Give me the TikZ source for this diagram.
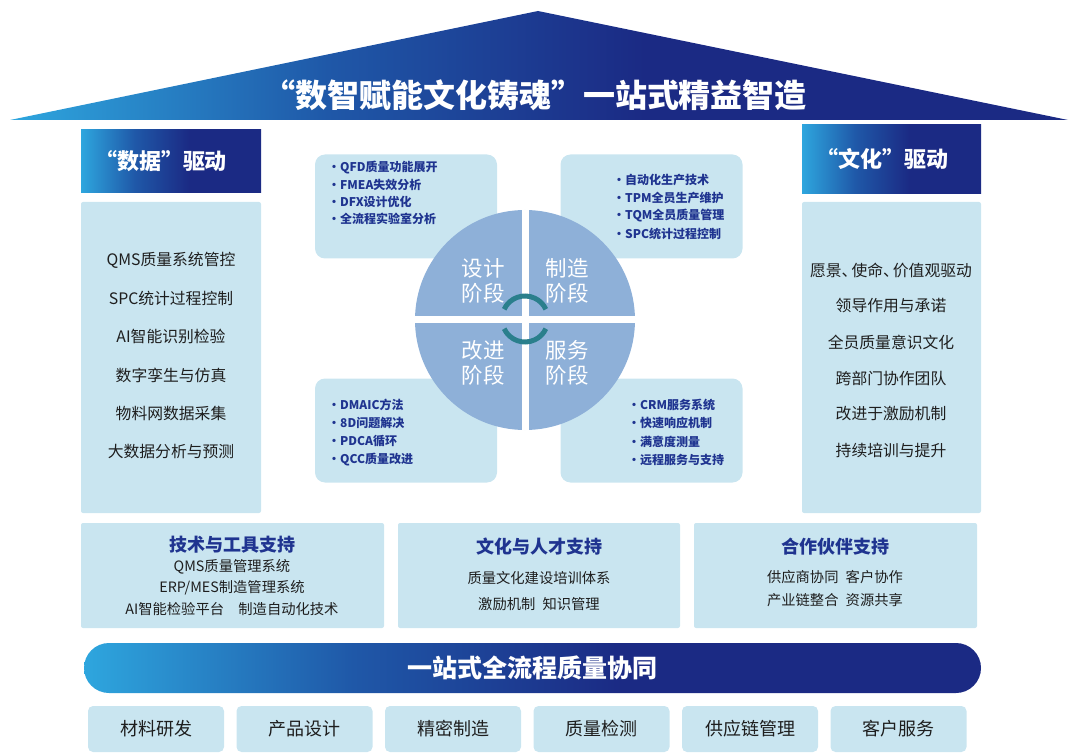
\documentclass[tikz,border=0pt]{standalone}
\usepackage{fontspec}
\setmainfont{Noto Sans CJK SC}
\definecolor{RoofLight}{HTML}{2EA6DE}
\definecolor{RoofMid}{HTML}{1F58A8}
\definecolor{RoofNavy}{HTML}{1B2A84}
\definecolor{PanelBlue}{HTML}{C9E5F0}
\definecolor{PieBlue}{HTML}{8EB0D8}
\definecolor{LoopTeal}{HTML}{2A7F8C}
\definecolor{InkNavy}{HTML}{1F3490}
\definecolor{InkDark}{HTML}{1E1E1E}
\pgfdeclarehorizontalshading{BandShade}{100bp}{color(0bp)=(RoofLight); color(25bp)=(RoofLight); color(40bp)=(RoofMid); color(55bp)=(RoofNavy); color(100bp)=(RoofNavy)}

\begin{document}
\begin{tikzpicture}[x=1pt,y=-1pt,
  band/.style={shading=BandShade,text=white,font=\bfseries\fontsize{22}{26}\selectfont,inner sep=0},
  panel/.style={fill=PanelBlue,inner sep=0,rounded corners=2},
  quad/.style={panel,rounded corners=10,minimum width=182,minimum height=104},
  bul/.style={anchor=west,text=InkNavy,font=\bfseries\fontsize{12}{14}\selectfont,inner sep=0},
  item/.style={text=InkDark,font=\fontsize{15.8}{19}\selectfont,inner sep=0},
  body/.style={text=InkDark,font=\fontsize{14.3}{17}\selectfont,inner sep=0},
  head/.style={text=InkNavy,font=\bfseries\fontsize{18}{22}\selectfont,inner sep=0},
  stage/.style={text=white,align=center,font=\fontsize{21.5}{25}\selectfont,inner sep=0},
  tile/.style={panel,rounded corners=5,minimum width=136,minimum height=46,text=InkDark,font=\fontsize{18}{22}\selectfont}]
  \useasboundingbox (0,0) rectangle (1080,754);
  % roof
  \shade[shading=BandShade] (10,120) -- (538,11) -- (1068,120) -- cycle;
  \node[text=white,font=\bfseries\fontsize{32}{36}\selectfont] (roof) at (535,95) {“数智赋能文化铸魂”一站式精益智造};
  % side pillars
  \node[band,minimum width=180,minimum height=63] (hdl) at (171,161.5) {};
  \node[text=white,font=\bfseries\fontsize{22}{26}\selectfont,inner sep=0] (hdlt) at (161,161.5) {“数据”驱动};
  \node[band,minimum width=179,minimum height=69] (hdr) at (891.5,159) {};
  \node[text=white,font=\bfseries\fontsize{22}{26}\selectfont,inner sep=0] (hdrt) at (882,159) {“文化”驱动};
  \node[panel,minimum width=180,minimum height=311] (pl) at (171,357.5) {};
  \node[panel,minimum width=179,minimum height=311] (pr) at (891.5,357.5) {};
  \foreach \t [count=\i] in {QMS质量系统管控,SPC统计过程控制,AI智能识别检验,数字孪生与仿真,物料网数据采集,大数据分析与预测}
    \node[item] (dl\i) at (171,221.6+38.4*\i) {\t};
  \foreach \t [count=\i] in {愿景、\kern-6pt使命、\kern-6pt价值观驱动,领导作用与承诺,全员质量意识文化,跨部门协作团队,改进于激励机制,持续培训与提升}
    \node[item] (dr\i) at (891,234+36*\i) {\t};
  % stage boxes
  \node[quad] (qtl) at (406,206.5) {};
  \node[quad] (qtr) at (651.5,206.5) {};
  \node[quad] (qbl) at (406,430.5) {};
  \node[quad] (qbr) at (651.5,430.5) {};
  \foreach \t [count=\i] in {QFD质量功能展开,FMEA失效分析,DFX设计优化,全流程实验室分析}
    \node[bul] (btl\i) at (328,150+17.3*\i) {·\t};
  \foreach \t [count=\i] in {自动化生产技术,TPM全员生产维护,TQM全员质量管理,SPC统计过程控制}
    \node[bul] (btr\i) at (613,162+18*\i) {·\t};
  \foreach \t [count=\i] in {DMAIC方法,8D问题解决,PDCA循环,QCC质量改进}
    \node[bul] (bbl\i) at (328,386.5+18.3*\i) {·\t};
  \foreach \t [count=\i] in {CRM服务系统,快速响应机制,满意度测量,远程服务与支持}
    \node[bul] (bbr\i) at (628,386.5+18.3*\i) {·\t};
  % cycle
  \node[circle,fill=PieBlue,minimum size=220,inner sep=0] (pie) at (525,320) {};
  \draw[white,line width=7] (pie.north) -- (pie.south);
  \draw[white,line width=7] (pie.west) -- (pie.east);
  \node[stage] (sd) at (483,280.5) {设计\\阶段};
  \node[stage] (sm) at (567,280.5) {制造\\阶段};
  \node[stage] (si) at (483,362.5) {改进\\阶段};
  \node[stage] (ss) at (567,362.5) {服务\\阶段};
  \coordinate (loop) at (525,319);
  \draw[LoopTeal,line width=5] ([shift={(205:23)}]loop) arc[start angle=205,end angle=335,radius=23];
  \draw[LoopTeal,line width=5] ([shift={(155:23)}]loop) arc[start angle=155,end angle=25,radius=23];
  % support
  \node[panel,minimum width=303,minimum height=105] (sup1) at (232.5,575.5) {};
  \node[panel,minimum width=282,minimum height=105] (sup2) at (539,575.5) {};
  \node[panel,minimum width=283,minimum height=105] (sup3) at (835.5,575.5) {};
  \node[head] (h1) at (232,545) {技术与工具支持};
  \node[body] (a1) at (232,567) {QMS质量管理系统};
  \node[body] (a2) at (232,588) {ERP/MES制造管理系统};
  \node[body] (a3) at (232,609) {AI智能检验平台\quad 制造自动化技术};
  \node[head] (h2) at (539,547) {文化与人才支持};
  \node[body] (b1) at (539,578) {质量文化建设培训体系};
  \node[body] (b2) at (539,604) {激励机制\enspace 知识管理};
  \node[head] (h3) at (835,547) {合作伙伴支持};
  \node[body] (c1) at (835,577) {供应商协同\enspace 客户协作};
  \node[body] (c2) at (835,600) {产业链整合\enspace 资源共享};
  % base
  \node[band,rounded corners=25,minimum width=897,minimum height=50,font=\bfseries\fontsize{25}{30}\selectfont] (bar) at (532.5,668) {一站式全流程质量协同};
  \foreach \t [count=\i] in {材料研发,产品设计,精密制造,质量检测,供应链管理,客户服务}
    \node[tile] (t\i) at (156+148.5*\i-148.5,729) {\t};
\end{tikzpicture}
\end{document}
